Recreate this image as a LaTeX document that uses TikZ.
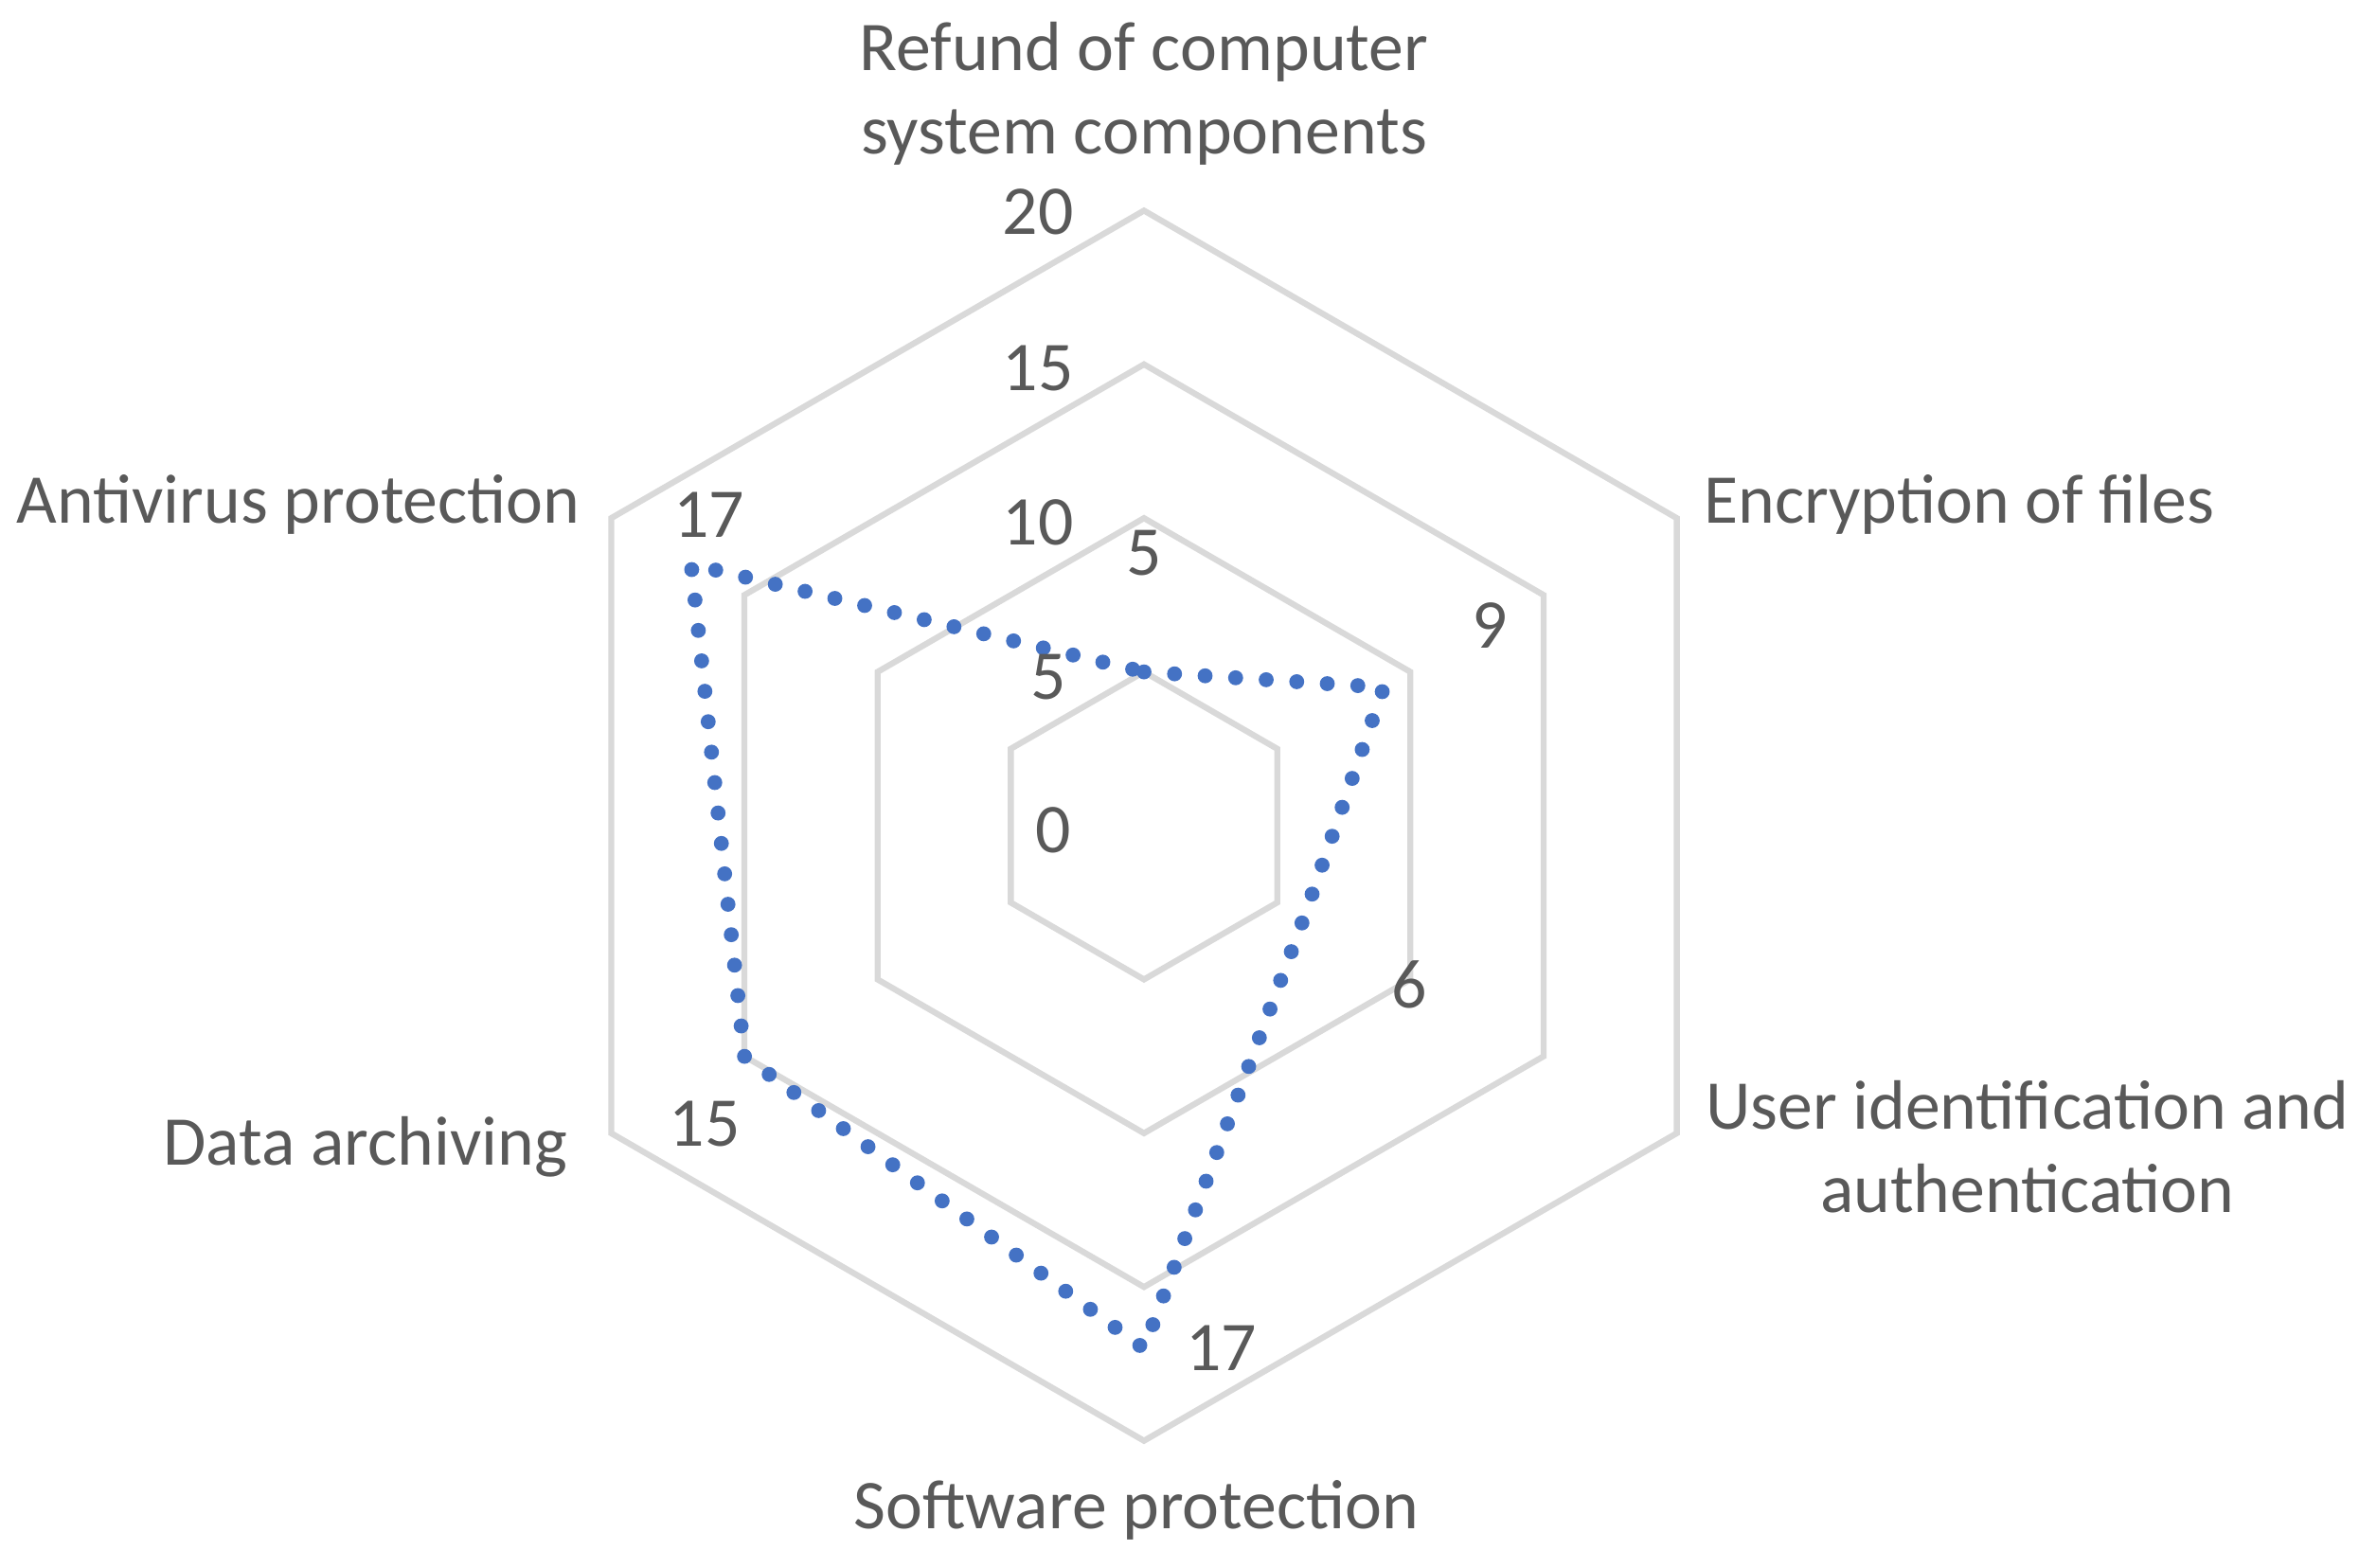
\documentclass[tikz,border=0pt]{standalone}
\usepackage{fontspec}
\setmainfont{Carlito}
\definecolor{grid}{RGB}{217,217,217}
\definecolor{ser}{RGB}{68,114,196}
\definecolor{txt}{RGB}{89,89,89}
\begin{document}
\begin{tikzpicture}[x=0.016cm,y=-0.016cm,
  gridl/.style={draw=grid,line width=1.8pt},
  lbl/.style={text=txt,font=\fontsize{21}{25}\selectfont,inner sep=0pt,align=center},
  series/.style={draw=ser,line width=4.5pt,line cap=round,dash pattern=on 0pt off 9.2pt}]
\useasboundingbox (0,0) rectangle (1568.75,1034.4);
\foreach \r in {5,10,15,20}{
  \draw[gridl] ({755+20.3*\r*cos(90)},{545-20.3*\r*sin(90)})
   \foreach \a in {30,-30,-90,-150,150}{ -- ({755+20.3*\r*cos(\a)},{545-20.3*\r*sin(\a)})} -- cycle;}
\coordinate (p1) at ({755},{545-20.3*5});
\coordinate (p2) at ({755+20.3*9*cos(30)},{545-20.3*9*sin(30)});
\coordinate (p3) at ({755+20.3*6*cos(-30)},{545-20.3*6*sin(-30)});
\coordinate (p4) at ({755},{545+20.3*17});
\coordinate (p5) at ({755+20.3*15*cos(-150)},{545-20.3*15*sin(-150)});
\coordinate (p6) at ({755+20.3*17*cos(150)},{545-20.3*17*sin(150)});
\draw[series] (p1) -- (p2) -- (p3) -- (p4) -- (p5) -- (p6) -- cycle;
\node[lbl] (t20) at (685,140) {20};
\node[lbl] (t15) at (685,243) {15};
\node[lbl] (t10) at (685,345) {10};
\node[lbl] (t5) at (692,447) {5};
\node[lbl] (t0) at (695,548) {0};
\node[lbl] (d1) at (755,365) {5};
\node[lbl] (d2) at (983,413) {9};
\node[lbl] (d3) at (930,650) {6};
\node[lbl] (d4) at (806,890) {17};
\node[lbl] (d5) at (465,742) {15};
\node[lbl] (d6) at (468,340) {17};
\node[lbl] (a1) at (755,62) {Refund of computer\\system components};
\node[lbl] (a2) at (1293,333) {Encryption of files};
\node[lbl] (a3) at (1338,757) {User identification and\\authentication};
\node[lbl] (a4) at (750,997) {Software protection};
\node[lbl] (a5) at (241,757) {Data archiving};
\node[lbl] (a6) at (197,333) {Antivirus protection};
\end{tikzpicture}
\end{document}
